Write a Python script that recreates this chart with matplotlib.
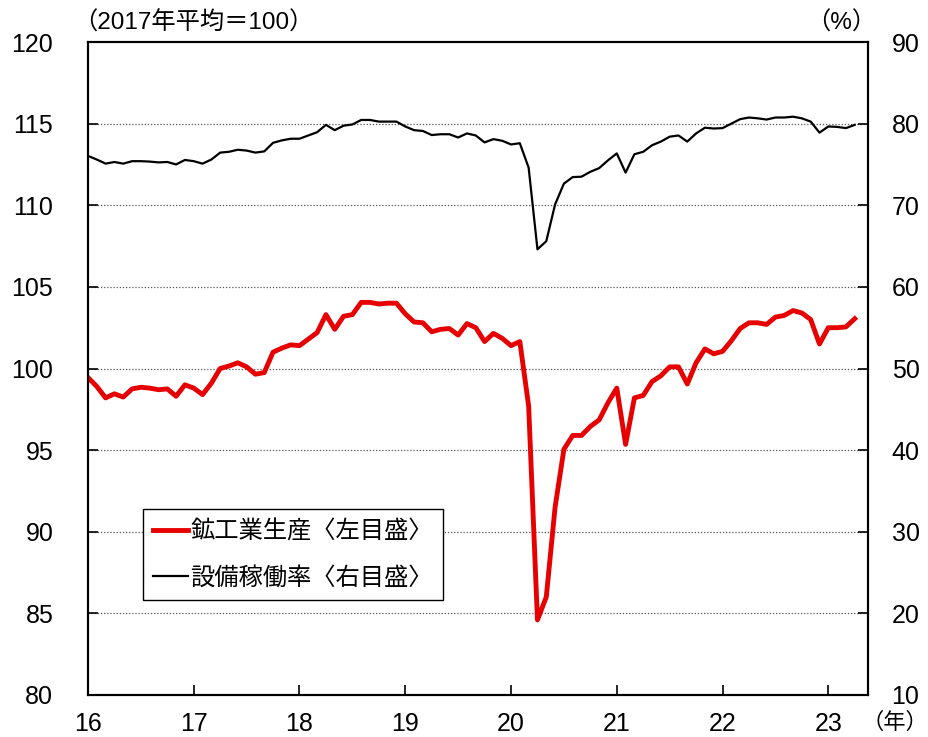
import numpy as np
import matplotlib
matplotlib.use("Agg")
import matplotlib.pyplot as plt

plt.rcParams['font.family'] = ['Liberation Sans', 'Noto Sans CJK JP', 'DejaVu Sans']

# monthly data, 2016/01 - 2023/04
production = [
    99.45, 98.9, 98.2, 98.45, 98.25, 98.75, 98.85, 98.8, 98.7, 98.75, 98.3, 99.0,
    98.8, 98.4, 99.1, 100.0, 100.15, 100.35, 100.1, 99.65, 99.75, 101.0, 101.25, 101.45,
    101.4, 101.8, 102.2, 103.3, 102.4, 103.2, 103.3, 104.05, 104.05, 103.95, 104.0, 104.0,
    103.35, 102.85, 102.8, 102.25, 102.4, 102.45, 102.05, 102.75, 102.5, 101.65, 102.15, 101.85,
    101.4, 101.65, 97.7, 84.6, 86.0, 91.5, 95.05, 95.9, 95.9, 96.45, 96.85, 97.9,
    98.8, 95.35, 98.2, 98.35, 99.2, 99.55, 100.1, 100.1, 99.05, 100.35, 101.2, 100.9,
    101.05, 101.7, 102.45, 102.8, 102.8, 102.7, 103.15, 103.25, 103.55, 103.4, 103.0, 101.5,
    102.5, 102.5, 102.55, 103.05,
]
utilization = [
    76.05, 75.6, 75.1, 75.3, 75.1, 75.4, 75.4, 75.35, 75.25, 75.3, 75.0, 75.55,
    75.4, 75.1, 75.6, 76.45, 76.55, 76.8, 76.7, 76.45, 76.6, 77.65, 77.95, 78.15,
    78.15, 78.55, 78.95, 79.85, 79.2, 79.75, 79.9, 80.45, 80.45, 80.25, 80.25, 80.25,
    79.65, 79.2, 79.1, 78.6, 78.7, 78.7, 78.3, 78.8, 78.55, 77.7, 78.1, 77.9,
    77.45, 77.6, 74.6, 64.6, 65.6, 70.1, 72.65, 73.45, 73.5, 74.1, 74.55, 75.5,
    76.35, 74.0, 76.25, 76.55, 77.35, 77.8, 78.4, 78.55, 77.8, 78.8, 79.5, 79.4,
    79.45, 80.0, 80.55, 80.75, 80.65, 80.5, 80.75, 80.75, 80.85, 80.65, 80.25, 78.9,
    79.65, 79.6, 79.45, 79.85,
]
year_labels = ['16', '17', '18', '19', '20', '21', '22', '23']

months = np.arange(len(production))

fig = plt.figure(figsize=(9.29, 7.37), dpi=100)
ax1 = fig.add_axes([0.0947, 0.057, 0.8396, 0.886])
ax2 = ax1.twinx()

for y in range(85, 120, 5):
    ax1.axhline(y, color='#555555', lw=0.9, ls=(0, (1, 1.5)), zorder=0)

l1, = ax1.plot(months, production, color='#e60000', lw=3.5, zorder=3,
               solid_joinstyle='round', label='鉱工業生産〈左目盛〉')
l2, = ax2.plot(months, utilization, color='black', lw=1.6, zorder=3,
               label='設備稼働率〈右目盛〉')

ax1.set_xlim(0, 88.5)
ax1.set_ylim(80, 120)
ax2.set_ylim(10, 90)
ax1.set_yticks(range(80, 121, 5))
ax2.set_yticks(range(10, 91, 10))
ax1.set_xticks(np.arange(0, 85, 12))
ax1.set_xticklabels(year_labels)

ax1.tick_params(axis='y', direction='in', length=7, width=1.2, labelsize=18, pad=25)
ax2.tick_params(axis='y', direction='in', length=7, width=1.2, labelsize=18, pad=17)
ax1.tick_params(axis='x', direction='in', length=7, width=1.2, labelsize=18, pad=12)

for ax in (ax1, ax2):
    for s in ax.spines.values():
        s.set_linewidth(1.5)

fig.text(0.079, 0.969, '（2017年平均＝100）', fontsize=17.5, ha='left', va='center')
fig.text(0.943, 0.969, '（%）', fontsize=17.5, ha='right', va='center')
fig.text(0.963, 0.019, '（年）', fontsize=16, ha='center', va='center')

leg = ax2.legend(handles=[l1, l2], loc='lower left', bbox_to_anchor=(0.0705, 0.1455),
                 borderaxespad=0, fancybox=False, edgecolor='black',
                 handlelength=1.45, handletextpad=0.1, borderpad=0.4, labelspacing=0.8,
                 prop={'family': ['Noto Sans CJK JP'], 'size': 17.5})
leg.get_frame().set_linewidth(1.0)
leg.get_frame().set_alpha(1)

fig.savefig('out.png', dpi=100)
